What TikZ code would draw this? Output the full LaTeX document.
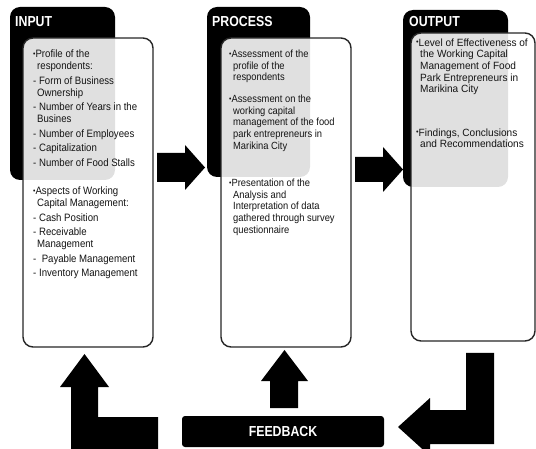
\documentclass[tikz,border=0pt]{standalone}
\usepackage{fontspec}
\setmainfont{Liberation Sans}
\newfontfamily\bodyfont[FakeStretch=0.9]{Liberation Sans}
\newfontfamily\outfont[FakeStretch=0.96]{Liberation Sans}
\newfontfamily\headfont[FakeStretch=0.85]{Liberation Sans}
\newcommand\bul{\raisebox{0.25ex}{\fontsize{7.5}{7.5}\selectfont\textbullet}}
\newcommand\ind{\hspace*{4pt}}
\begin{document}
\begin{tikzpicture}[x=1pt,y=-1pt,
  tab/.style={fill=black, rounded corners=10pt, anchor=north west, outer sep=0pt, inner sep=0pt},
  card/.style={draw=black!85, line width=1.4pt, fill=white, fill opacity=0.88,
    rounded corners=10pt, anchor=north west, outer sep=0pt, inner sep=0pt},
  head/.style={anchor=base west, inner sep=0pt, text=white,
    font=\headfont\bfseries\fontsize{14.5}{16}\selectfont},
  body/.style={anchor=north west, inner sep=0pt, align=left, text=black!92,
    font=\bodyfont\fontsize{10.7}{12}\selectfont},
  probody/.style={body, font=\bodyfont\fontsize{10.4}{11.7}\selectfont},
  outbody/.style={body, font=\outfont\fontsize{10.5}{11.6}\selectfont},
  blockarrow/.style={fill=black}
]
\useasboundingbox (0,0) rectangle (536,449);
\clip (0,0) rectangle (536,449);

% dark header tabs
\node[tab, minimum width=105pt, minimum height=173pt] (intab)  at (10,7)  {};
\node[tab, minimum width=103pt, minimum height=170pt] (protab) at (207,7) {};
\node[tab, minimum width=105pt, minimum height=177pt] (outtab) at (403,10) {};

% translucent content cards
\node[card, minimum width=130pt, minimum height=309pt] (incard)  at (23,38)  {};
\node[card, minimum width=130pt, minimum height=309pt] (procard) at (221,38) {};
\node[card, minimum width=124pt, minimum height=308pt] (outcard) at (411,33) {};

% headings
\node[head] (inhead)  at (15,26.7)  {INPUT};
\node[head] (prohead) at (212,27)   {PROCESS};
\node[head] (outhead) at (409,27)   {OUTPUT};

% input contents
\node[body] (in1) at (33,49.8) {%
\bul Profile of the\\
\ind respondents:\\[2.5pt]
- Form of Business\\
\ind Ownership\\[2.5pt]
- Number of Years in the\\
\ind Busines\\[2.5pt]
- Number of Employees\\[2.5pt]
- Capitalization\\[2.5pt]
- Number of Food Stalls};
\node[body] (in2) at (33,186.6) {%
\bul Aspects of Working\\
\ind Capital Management:\\[2.5pt]
- Cash Position\\[2.5pt]
- Receivable\\
\ind Management\\[2.5pt]
-\ \ Payable Management\\[2.5pt]
- Inventory Management};

% process contents
\node[probody] (pro1) at (229,49.8) {%
\bul Assessment of the\\
\ind profile of the\\
\ind respondents};
\node[probody] (pro2) at (229,94.8) {%
\bul Assessment on the\\
\ind working capital\\
\ind management of the food\\
\ind park entrepreneurs in\\
\ind Marikina City};
\node[probody] (pro3) at (229,178.8) {%
\bul Presentation of the\\
\ind Analysis and\\
\ind Interpretation of data\\
\ind gathered through survey\\
\ind questionnaire};

% output contents
\node[outbody] (out1) at (416,38.4) {%
\bul Level of Effectiveness of\\
\ind the Working Capital\\
\ind Management of Food\\
\ind Park Entrepreneurs in\\
\ind Marikina City};
\node[outbody] (out2) at (416,128.4) {%
\bul Findings, Conclusions\\
\ind and Recommendations};

% flow arrows between stages
\fill[blockarrow] (157,153) -- (185,153) -- (185,145) -- (205,167.5) -- (185,190)
  -- (185,182) -- (157,182) -- cycle;
\fill[blockarrow] (355,157) -- (383,157) -- (383,147) -- (403,169.5) -- (383,192)
  -- (383,182) -- (355,182) -- cycle;

% feedback loop
\node[fill=black, rounded corners=3pt, minimum width=202pt, minimum height=31pt,
  inner sep=0pt, text=white, font=\headfont\bfseries\fontsize{14.5}{16}\selectfont]
  (fb) at (283,431.5) {FEEDBACK};
\fill[blockarrow] (466,353) -- (494,353) -- (494,444) -- (430,444) -- (430,456)
  -- (398,427) -- (430,398) -- (430,410) -- (466,410) -- cycle;
\fill[blockarrow] (284.5,350) -- (308,381) -- (298,381) -- (298,408) -- (270,408)
  -- (270,381) -- (261,381) -- cycle;
\fill[blockarrow] (84.5,354) -- (109,387) -- (98,387) -- (98,417) -- (158,417)
  -- (158,460) -- (71,460) -- (71,387) -- (60,387) -- cycle;
\end{tikzpicture}
\end{document}
